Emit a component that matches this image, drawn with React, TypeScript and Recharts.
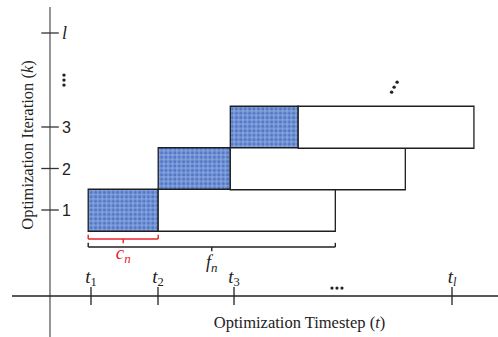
import React from 'react';
import { ComposedChart, Bar, XAxis, YAxis, ReferenceLine, ReferenceDot } from 'recharts';

// Rows of the schedule (optimization iteration k)
const iterations = [1, 2, 3];
const startTimes = [0.96, 1.96, 2.99];
const controlWidths = [1.0, 1.03, 0.97];
const forecastWidths = [2.53, 2.5, 2.51];

// Time-axis ticks
const timeTickValues = [1.0, 1.957, 3.043, 6.157];
const timeTickSubs = ['1', '2', '3', 'l'];

// Iteration-axis ticks
const iterTickValues = [1, 2, 3, 5.265];
const iterTickLabels = ['1', '2', '3', 'l'];

const rowData = iterations.map((k, i) => ({
  k,
  start: startTimes[i],
  c: controlWidths[i],
  f: forecastWidths[i],
}));

const T_DOMAIN: [number, number] = [-0.3, 6.814];
const K_DOMAIN: [number, number] = [-2.06, 6.06];
const AXIS_T = 0.414; // where the vertical axis crosses
const AXIS_K = -1.072; // where the horizontal axis crosses

const SERIF = '"Liberation Serif", "DejaVu Serif", serif';
const SANS = '"Liberation Sans", "DejaVu Sans", sans-serif';

// brackets
const cBracket = { from: startTimes[0], to: startTimes[0] + controlWidths[0], k: 0.301 };
const fBracket = { from: startTimes[0], to: startTimes[0] + controlWidths[0] + forecastWidths[0], k: 0.108 };

function bracketSegments(b: { from: number; to: number; k: number }) {
  const mid = (b.from + b.to) / 2;
  return [
    [{ x: b.from, y: b.k }, { x: b.to, y: b.k }],
    [{ x: b.from, y: b.k }, { x: b.from, y: b.k + 0.1 }],
    [{ x: b.to, y: b.k }, { x: b.to, y: b.k + 0.1 }],
    [{ x: mid, y: b.k }, { x: mid, y: b.k - 0.1 }],
  ];
}

export default function App() {
  return (
    <div style={{ position: 'absolute', left: 0, top: 0, background: '#fff' }}>
      <ComposedChart
        width={498}
        height={337}
        layout="vertical"
        data={rowData}
        barCategoryGap={0}
        barGap={0}
        margin={{ top: 0, right: 0, bottom: 0, left: 0 }}
      >
        <defs>
          <pattern id="check" width="4.4" height="4.4" patternUnits="userSpaceOnUse">
            <rect width="4.4" height="4.4" fill="#5077c6" />
            <rect width="4.4" height="2" fill="#9cb4e6" opacity="0.5" />
            <rect width="2" height="4.4" fill="#9cb4e6" opacity="0.5" />
          </pattern>
        </defs>
        <XAxis type="number" domain={T_DOMAIN} hide allowDataOverflow />
        <YAxis type="number" dataKey="k" domain={K_DOMAIN} hide allowDataOverflow reversed />

        <Bar dataKey="start" stackId="s" fill="none" stroke="none" isAnimationActive={false} />
        <Bar dataKey="c" stackId="s" fill="url(#check)" stroke="#1e1e1e" strokeWidth={1.3} isAnimationActive={false} />
        <Bar dataKey="f" stackId="s" fill="#ffffff" stroke="#1e1e1e" strokeWidth={1.3} isAnimationActive={false} />

        {/* axes */}
        <ReferenceLine segment={[{ x: AXIS_T, y: 5.89 }, { x: AXIS_T, y: K_DOMAIN[0] }]} stroke="#666" strokeWidth={1.4} ifOverflow="visible" />
        <ReferenceLine segment={[{ x: -0.129, y: AXIS_K }, { x: T_DOMAIN[1], y: AXIS_K }]} stroke="#222" strokeWidth={1.3} ifOverflow="visible" />

        {/* time ticks */}
        {timeTickValues.map((t, i) => (
          <ReferenceLine key={'tt' + i} segment={[{ x: t, y: -0.855 }, { x: t, y: -1.29 }]} stroke="#222" strokeWidth={1.3} ifOverflow="visible" />
        ))}
        {timeTickValues.map((t, i) => (
          <ReferenceDot
            key={'tl' + i}
            x={t}
            y={AXIS_K}
            r={0}
            ifOverflow="visible"
            shape={(p: any) => (
              <text x={p.cx} y={p.cy - 13} textAnchor="middle" fontFamily={SERIF} fill="#222">
                <tspan fontStyle="italic" fontSize={19}>t</tspan>
                <tspan fontSize={12.5} dy={3} fontStyle={timeTickSubs[i] === 'l' ? 'italic' : 'normal'}>{timeTickSubs[i]}</tspan>
              </text>
            )}
          />
        ))}

        {/* iteration ticks */}
        {iterTickValues.map((k, i) => (
          <ReferenceLine key={'kt' + i} segment={[{ x: 0.29, y: k }, { x: 0.54, y: k }]} stroke="#333" strokeWidth={1.3} ifOverflow="visible" />
        ))}
        {iterTickValues.map((k, i) => (
          <ReferenceDot
            key={'kl' + i}
            x={AXIS_T}
            y={k}
            r={0}
            ifOverflow="visible"
            shape={(p: any) => (
              <text
                x={p.cx + 12}
                y={p.cy + 6}
                fontFamily={iterTickLabels[i] === 'l' ? SERIF : SANS}
                fontStyle={iterTickLabels[i] === 'l' ? 'italic' : 'normal'}
                fontSize={iterTickLabels[i] === 'l' ? 18 : 16}
                fill="#222"
              >
                {iterTickLabels[i]}
              </text>
            )}
          />
        ))}

        {/* brackets */}
        {bracketSegments(cBracket).map((s, i) => (
          <ReferenceLine key={'cb' + i} segment={s as any} stroke="#e8232a" strokeWidth={1.4} ifOverflow="visible" />
        ))}
        {bracketSegments(fBracket).map((s, i) => (
          <ReferenceLine key={'fb' + i} segment={s as any} stroke="#222" strokeWidth={1.4} ifOverflow="visible" />
        ))}
        <ReferenceDot
          x={(cBracket.from + cBracket.to) / 2}
          y={cBracket.k}
          r={0}
          ifOverflow="visible"
          shape={(p: any) => (
            <text x={p.cx} y={p.cy + 20} textAnchor="middle" fontFamily={SERIF} fill="#e8232a">
              <tspan fontStyle="italic" fontSize={19}>c</tspan>
              <tspan fontStyle="italic" fontSize={13} dy={3.5}>n</tspan>
            </text>
          )}
        />
        <ReferenceDot
          x={(fBracket.from + fBracket.to) / 2}
          y={fBracket.k}
          r={0}
          ifOverflow="visible"
          shape={(p: any) => (
            <text x={p.cx} y={p.cy + 21} textAnchor="middle" fontFamily={SERIF} fill="#222">
              <tspan fontStyle="italic" fontSize={18}>f</tspan>
              <tspan fontStyle="italic" fontSize={13} dy={3.5}>n</tspan>
            </text>
          )}
        />

        {/* ellipses */}
        <ReferenceDot
          x={0.614}
          y={4.13}
          r={0}
          ifOverflow="visible"
          shape={(p: any) => (
            <g fill="#222">
              <circle cx={p.cx} cy={p.cy - 5} r={1.7} />
              <circle cx={p.cx} cy={p.cy} r={1.7} />
              <circle cx={p.cx} cy={p.cy + 5} r={1.7} />
            </g>
          )}
        />
        <ReferenceDot
          x={5.33}
          y={3.96}
          r={0}
          ifOverflow="visible"
          shape={(p: any) => (
            <g fill="#222">
              <circle cx={p.cx - 2.5} cy={p.cy + 5} r={1.7} />
              <circle cx={p.cx} cy={p.cy} r={1.7} />
              <circle cx={p.cx + 3} cy={p.cy - 5} r={1.7} />
            </g>
          )}
        />
        <ReferenceDot
          x={4.514}
          y={-0.88}
          r={0}
          ifOverflow="visible"
          shape={(p: any) => (
            <g fill="#222">
              <circle cx={p.cx - 5} cy={p.cy} r={1.6} />
              <circle cx={p.cx} cy={p.cy} r={1.6} />
              <circle cx={p.cx + 5} cy={p.cy} r={1.6} />
            </g>
          )}
        />

        {/* axis titles */}
        <ReferenceDot
          x={3.979}
          y={-1.699}
          r={0}
          ifOverflow="visible"
          shape={(p: any) => (
            <text x={p.cx} y={p.cy} textAnchor="middle" dominantBaseline="central" fontFamily={SERIF} fontSize={16.5} fill="#222">
              Optimization Timestep (<tspan fontStyle="italic">t</tspan>)
            </text>
          )}
        />
        <ReferenceDot
          x={0.086}
          y={2.566}
          r={0}
          ifOverflow="visible"
          shape={(p: any) => (
            <text
              x={p.cx}
              y={p.cy}
              textAnchor="middle"
              dominantBaseline="central"
              fontFamily={SERIF}
              fontSize={16.5}
              fill="#222"
              transform={`rotate(-90 ${p.cx} ${p.cy})`}
            >
              Optimization Iteration (<tspan fontStyle="italic">k</tspan>)
            </text>
          )}
        />
      </ComposedChart>
    </div>
  );
}
